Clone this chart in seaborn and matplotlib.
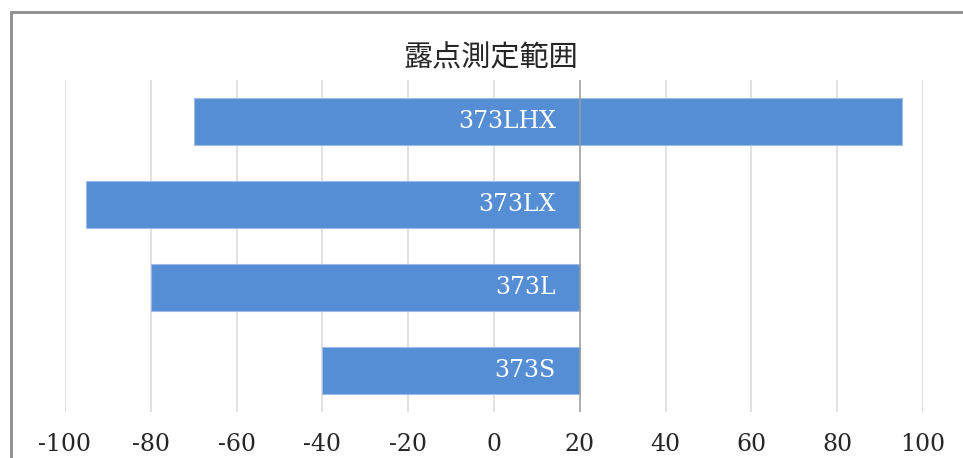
import matplotlib
matplotlib.use("Agg")
import matplotlib.pyplot as plt
from matplotlib.lines import Line2D
import seaborn as sns
import pandas as pd

# data
categories = ["373LHX", "373LX", "373L", "373S"]
low_values = [-70, -95, -80, -40]
high_values = [95, 20, 20, 20]
axis_cross = 20
x_ticks = [-100, -80, -60, -40, -20, 0, 20, 40, 60, 80, 100]
title = "露点測定範囲"

df = pd.DataFrame({
    "category": categories,
    "low": low_values,
    "span": [h - l for h, l in zip(high_values, low_values)],
})

sns.set_theme(style="white")
plt.rcParams["font.family"] = ["DejaVu Serif"]

fig = plt.figure(figsize=(9.63, 4.58), dpi=100)
ax = fig.add_axes([65 / 963, 46 / 458, 858 / 963, 332 / 458])

sns.barplot(data=df, x="span", y="category", left=df["low"].values,
            orient="y", color="#558ED5", saturation=1, width=0.57,
            edgecolor="#9dbde6", linewidth=0.8, ax=ax, zorder=3)

ax.set_xlim(x_ticks[0], x_ticks[-1])
ax.set_ylim(3.5, -0.5)
ax.set_xticks(x_ticks)
ax.set_xticklabels([str(t) for t in x_ticks], fontsize=17, color="#262626",
                   family="DejaVu Serif")
ax.tick_params(axis="x", length=0, pad=15)
ax.set_yticks([])
ax.set_xlabel("")
ax.set_ylabel("")
for s in ax.spines.values():
    s.set_visible(False)

for t in x_ticks:
    if t != axis_cross:
        ax.axvline(t, color="#d9d9d9", lw=1.1, zorder=1)
ax.axvline(axis_cross, color="#9a9a9a", lw=1.1, zorder=4)

for i, c in enumerate(categories):
    ax.annotate(c, xy=(axis_cross, i), xytext=(-24, 0), textcoords="offset pixels",
                ha="right", va="center", color="white", fontsize=17,
                family="DejaVu Serif", zorder=5)

fig.text(491 / 963, 1 - 58 / 458, title, ha="center", va="center",
         fontsize=21, color="#262626", family=["Noto Sans CJK JP", "DejaVu Sans"])

# chart frame (partially visible)
fig.add_artist(Line2D([10.5 / 963, 10.5 / 963], [0, 1 - 12 / 458],
                      transform=fig.transFigure, color="#8c8c8c", lw=2))
fig.add_artist(Line2D([10.5 / 963, 1], [1 - 12 / 458, 1 - 12 / 458],
                      transform=fig.transFigure, color="#8c8c8c", lw=2))

fig.savefig("out.png", dpi=100)
